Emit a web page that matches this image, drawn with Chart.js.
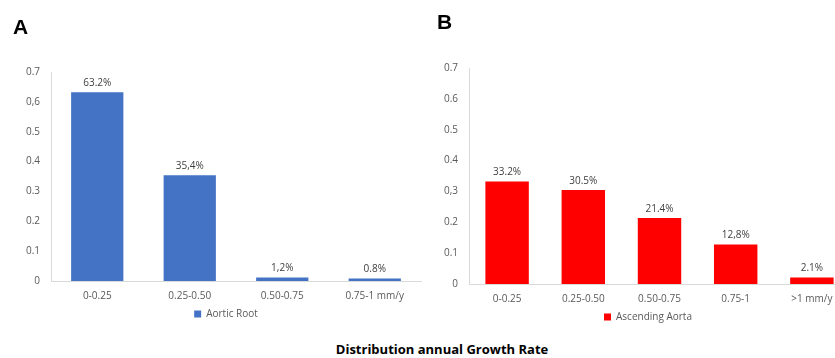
<!DOCTYPE html>
<html>
<head>
<meta charset="utf-8">
<script src="https://cdn.jsdelivr.net/npm/chart.js@4"></script>
<style>
  html, body { margin: 0; padding: 0; background: #fff; }
  body { width: 835px; height: 358px; overflow: hidden; position: relative; }
  .panel { position: absolute; top: 0; height: 340px; }
  #panelA { left: 0; width: 430px; }
  #panelB { left: 415px; width: 445px; }
  .tag { position: absolute; font-family: "Liberation Sans", Arial, sans-serif; font-weight: bold; font-size: 21px; color: #000; line-height: 1; }
  #title { position: absolute; left: 442px; top: 343px; transform: translateX(-50%); font-family: "Open Sans", sans-serif; font-weight: bold; font-size: 13px; color: #000; white-space: nowrap; line-height: 1; }
</style>
</head>
<body>
<div id="panelA" class="panel"><canvas id="chartA"></canvas></div>
<div id="panelB" class="panel"><canvas id="chartB"></canvas></div>
<div class="tag" style="left:13px; top:16px;">A</div>
<div class="tag" style="left:437px; top:11px;">B</div>
<div id="title">Distribution annual Growth Rate</div>
<script>
// Panel A: aortic root growth-rate classes
const categoriesA = ['0-0.25', '0.25-0.50', '0.50-0.75', '0.75-1 mm/y'];
const valuesA = [0.632, 0.354, 0.012, 0.008];
const valueLabelsA = ['63.2%', '35,4%', '1,2%', '0.8%'];
const yTicksA = ['0', '0.1', '0.2', '0.3', '0.4', '0.5', '0,6', '0.7'];

// Panel B: ascending aorta growth-rate classes
const categoriesB = ['0-0.25', '0.25-0.50', '0.50-0.75', '0.75-1', '>1 mm/y'];
const valuesB = [0.332, 0.305, 0.214, 0.128, 0.021];
const valueLabelsB = ['33.2%', '30.5%', '21.4%', '12,8%', '2.1%'];
const yTicksB = ['0', '0.1', '0.2', '0,3', '0.4', '0.5', '0.6', '0.7'];

const FONT = '"Open Sans", sans-serif';
const TICK_COLOR = '#595959';
const AXIS_COLOR = '#d9d9d9';

// Writes each bar's percentage text just above the bar
const valueLabelPlugin = {
  id: 'valueLabels',
  afterDatasetsDraw(chart, args, opts) {
    const ctx = chart.ctx;
    const meta = chart.getDatasetMeta(0);
    ctx.save();
    ctx.font = '10px ' + FONT;
    ctx.fillStyle = '#404040';
    ctx.textAlign = 'center';
    ctx.textBaseline = 'bottom';
    meta.data.forEach((bar, i) => {
      ctx.fillText(opts.texts[i], bar.x, bar.y - 4);
    });
    ctx.restore();
  }
};

// Recentres the legend row on a chosen x position
const legendShiftPlugin = {
  id: 'legendShift',
  afterLayout(chart, args, opts) {
    const lg = chart.legend;
    if (!lg) return;
    const w = lg.right - lg.left;
    lg.left = opts.center - w / 2;
    lg.right = lg.left + w;
  }
};

function makeChart(id, cats, vals, texts, yTicks, name, color, cfg) {
  return new Chart(document.getElementById(id), {
    type: 'bar',
    data: {
      labels: cats,
      datasets: [{
        label: name,
        data: vals,
        backgroundColor: color,
        borderWidth: 0,
        categoryPercentage: 1,
        barPercentage: cfg.barPct
      }]
    },
    options: {
      responsive: true,
      maintainAspectRatio: false,
      animation: false,
      layout: { padding: { top: cfg.top, right: cfg.right, bottom: cfg.bottom, left: 0 } },
      scales: {
        x: {
          grid: { display: false, drawTicks: false },
          border: { display: true, color: AXIS_COLOR, width: 1 },
          ticks: { color: TICK_COLOR, font: { family: FONT, size: 10 }, padding: 9, maxRotation: 0, autoSkip: false },
          afterFit(s) { s.height = 26; }
        },
        y: {
          min: 0,
          max: 0.7,
          grid: { display: false, drawTicks: false },
          border: { display: true, color: AXIS_COLOR, width: 1 },
          ticks: {
            stepSize: 0.1,
            color: TICK_COLOR,
            font: { family: FONT, size: 10 },
            padding: 11,
            callback: (v, i) => yTicks[i]
          },
          afterFit(s) { s.width = cfg.yWidth; }
        }
      },
      plugins: {
        legend: {
          position: 'bottom',
          labels: {
            boxWidth: 7,
            boxHeight: 7,
            padding: 2,
            color: TICK_COLOR,
            font: { family: FONT, size: 10 }
          }
        },
        tooltip: { enabled: false },
        valueLabels: { texts: texts },
        legendShift: { center: cfg.legendCenter }
      }
    },
    plugins: [valueLabelPlugin, legendShiftPlugin]
  });
}

makeChart('chartA', categoriesA, valuesA, valueLabelsA, yTicksA, 'Aortic Root', '#4472c4',
  { top: 72, right: 9, bottom: 11, yWidth: 51, barPct: 0.565, legendCenter: 226 });
makeChart('chartB', categoriesB, valuesB, valueLabelsB, yTicksB, 'Ascending Aorta', '#ff0000',
  { top: 68, right: 10, bottom: 8, yWidth: 54, barPct: 0.57, legendCenter: 233 });
</script>
</body>
</html>
